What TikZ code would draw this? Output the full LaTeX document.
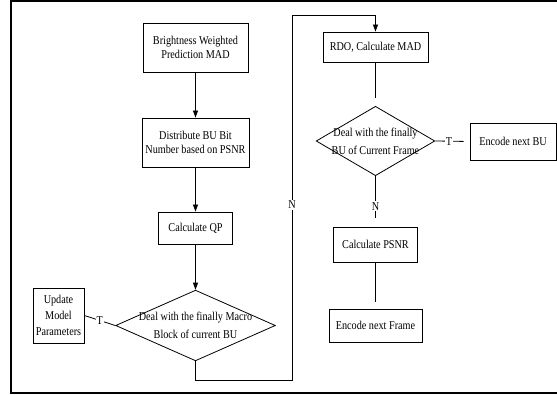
\documentclass[tikz,border=0pt]{standalone}
\usepackage{fontspec}
\setmainfont{Liberation Serif}[FakeStretch=0.85]
\usetikzlibrary{positioning,arrows.meta,shapes.geometric}

\begin{document}
\begin{tikzpicture}[x=1pt, y=-1pt,
    proc/.style={rectangle, draw=black, line width=0.8pt, align=center,
                 inner sep=0pt, font=\fontsize{12}{13.5}\selectfont},
    cond/.style={diamond, draw=black, line width=0.8pt, align=center,
                 inner xsep=0pt, inner ysep=-3pt, font=\fontsize{12}{18}\selectfont},
    lbl/.style={fill=white, inner sep=1pt, font=\fontsize{12}{13}\selectfont},
    arr/.style={-{Triangle[length=7pt,width=5pt]}, line width=0.8pt},
    ln/.style={line width=0.8pt}
]
    \useasboundingbox (0,0) rectangle (557,395);
    \draw[line width=1.6pt] (11,1) rectangle (575,393);

    \node[proc, minimum width=105pt, minimum height=49pt] (bw) at (195.5,47.5)
        {Brightness Weighted\\ Prediction MAD};
    \node[proc, minimum width=107pt, minimum height=49pt] (dist) at (195.5,142.5)
        {Distribute BU Bit\\ Number based on PSNR};
    \node[proc, minimum width=74pt, minimum height=32pt] (qp) at (195.5,228)
        {Calculate QP};
    \node[cond, aspect=2.26] (mb) at (195.5,325.5)
        {Deal with the finally Macro\\ Block of current BU};
    \node[proc, minimum width=51pt, minimum height=55pt,
          font=\fontsize{12}{16}\selectfont] (upd) at (58.5,315.5)
        {Update\\ Model\\ Parameters};

    \node[proc, minimum width=105pt, minimum height=30pt] (rdo) at (375.5,47)
        {RDO, Calculate MAD};
    \node[cond, aspect=1.71, inner xsep=-2pt] (bu) at (375.5,141)
        {Deal with the finally\\ BU of Current Frame};
    \node[proc, minimum width=86pt, minimum height=37pt] (nbu) at (513,141.5)
        {Encode next BU};
    \node[proc, minimum width=84pt, minimum height=35pt] (psnr) at (375.5,244.5)
        {Calculate PSNR};
    \node[proc, minimum width=93pt, minimum height=33pt] (nfr) at (375.5,325.5)
        {Encode next Frame};

    \draw[arr] (bw) -- (dist);
    \draw[arr] (dist) -- (qp);
    \draw[arr] (qp) -- (mb);
    \draw[ln] (mb.west) -- node[lbl] {T} (upd.east);
    \draw[arr] (mb.south) |- (292,380)
        -- node[lbl, pos=0.48] {N} (292,15) -| (rdo.north);
    \draw[ln, shorten >=8pt] (rdo) -- (bu);
    \draw[ln, shorten >=6pt] (bu.east) -- node[lbl, pos=0.4] {T} (nbu.west);
    \draw[ln, shorten >=9pt] (bu.south) -- node[lbl, pos=0.6] {N} (psnr.north);
    \draw[ln, shorten >=7pt] (psnr) -- (nfr);
\end{tikzpicture}
\end{document}
